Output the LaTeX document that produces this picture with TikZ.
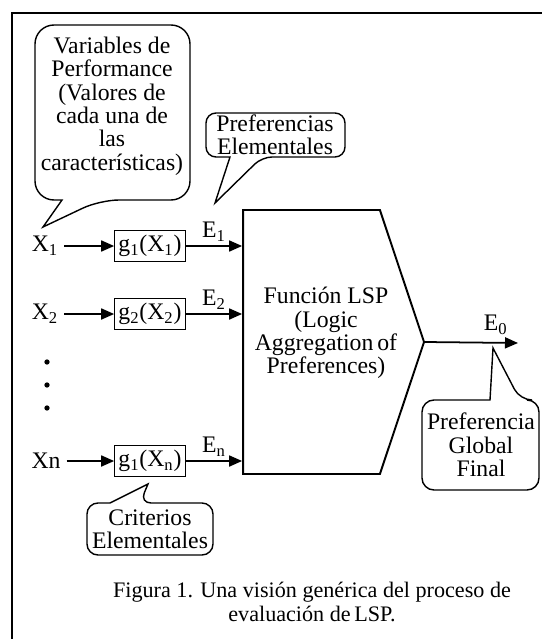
\documentclass[tikz,border=0pt]{standalone}
\usepackage{fontspec}
\setmainfont{Liberation Serif}
\usetikzlibrary{arrows.meta,shapes.symbols}

\begin{document}
\begin{tikzpicture}[x=0.02cm, y=-0.02cm, font=\fontsize{13.5}{13.3}\selectfont,
    gbox/.style={draw, thin, minimum width=1.42cm, minimum height=0.62cm, inner sep=1pt},
    bubble/.style={draw, line width=0.8pt},
    txt/.style={align=center, inner sep=1pt},
    arrow/.style={-{Triangle[length=0.26cm, width=0.22cm]}, line width=1pt}]

    \useasboundingbox (0,0) rectangle (541,639);
    \draw[line width=1.2pt] (12,650) -- (12,13) -- (550,13);

    % entradas y criterios
    \node (x1) at (45,246) {X\textsubscript{1}};
    \node (x2) at (45,314) {X\textsubscript{2}};
    \node (xn) at (46,461) {Xn};
    \node (g1) [gbox] at (150,246) {g\textsubscript{1}(X\textsubscript{1})};
    \node (g2) [gbox] at (150,314) {g\textsubscript{2}(X\textsubscript{2})};
    \node (gn) [gbox] at (150,461) {g\textsubscript{1}(X\textsubscript{n})};
    \foreach \y in {362,385,408}
        \fill (47,\y) circle (1.5pt);

    % funcion LSP
    \node (lsp) [signal, signal to=east, signal pointer angle=143, draw, line width=1.1pt,
        minimum width=3.62cm, minimum height=5.28cm] at (311.5,342) {};
    \node (lsptxt) [txt] at (326,333) {Función LSP\\(Logic\\Aggregation\,of\\Preferences)};
    \coordinate (e0end) at (518,343);

    \draw [arrow] (x1) -- (g1);
    \draw [arrow] (x2) -- (g2);
    \draw [arrow] (xn) -- (gn);
    \draw [arrow] (g1) -- (g1 -| lsp.west) node[midway, above, inner sep=2pt] {E\textsubscript{1}};
    \draw [arrow] (g2) -- (g2 -| lsp.west) node[midway, above, inner sep=2pt] {E\textsubscript{2}};
    \draw [arrow] (gn) -- (gn -| lsp.west) node[midway, above, inner sep=2pt] {E\textsubscript{n}};
    \draw [arrow] (lsp.east) -- (e0end) node[pos=0.76, above, inner sep=4pt] {E\textsubscript{0}};

    % globos
    \draw [bubble] (62,200) [rounded corners=0.38cm] -- (35,200) -- (35,25) -- (190,25) -- (190,200) -- (100,200) [sharp corners] -- (43,227) -- cycle;
    \node (perf) [txt] at (112,106) {Variables de\\Performance\\(Valores de\\cada una de\\las\\características)};
    \draw [bubble] (230,157) [rounded corners=0.2cm] -- (206,157) -- (206,113) -- (345,113) -- (345,157) -- (262,157) [sharp corners] -- (215,203) -- cycle;
    \node (elem) [txt] at (275,135) {Preferencias\\Elementales};
    \draw [bubble] (490,400) [rounded corners=0.24cm] -- (422,400) -- (422,490) -- (539,490) -- (539,400) -- (520,400) [sharp corners] -- (493,348) -- cycle;
    \node (glob) [txt] at (481,445) {Preferencia\\Global\\Final};
    \draw [bubble] (110,503) [rounded corners=0.22cm] -- (87,503) -- (87,555) -- (213,555) -- (213,503) -- (140,503) [sharp corners] -- (148,484) -- cycle;
    \node (crit) [txt] at (150,529) {Criterios\\Elementales};

    \node (cap) [txt, font=\fontsize{12.6}{13.6}\selectfont] at (312,602) {Figura 1. Una visión genérica del proceso de\\evaluación de\,LSP.};
\end{tikzpicture}
\end{document}
